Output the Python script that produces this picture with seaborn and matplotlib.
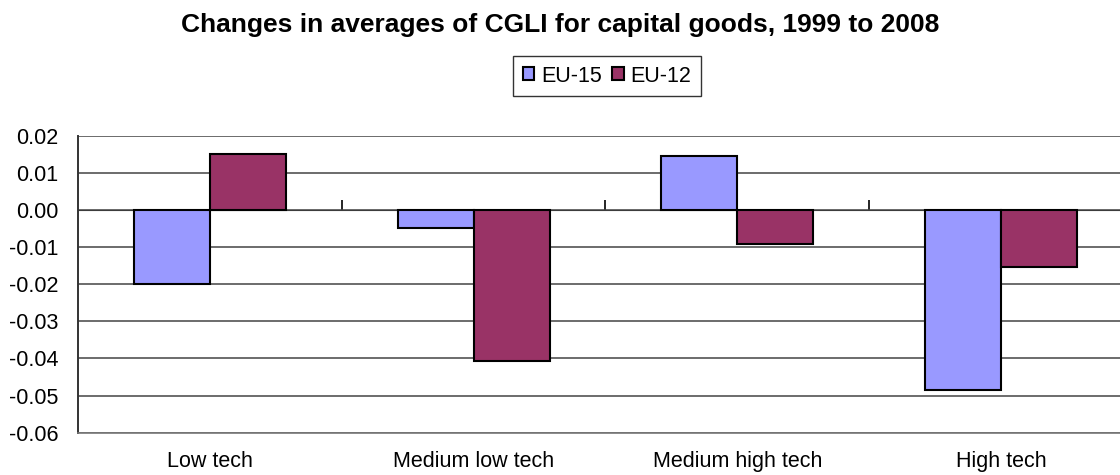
import numpy as np
import pandas as pd
import matplotlib
matplotlib.use("Agg")
import matplotlib.pyplot as plt
import seaborn as sns

# Données
categories = ["Low tech", "Medium low tech", "Medium high tech", "High tech"]
series_names = ["EU-15", "EU-12"]
eu15 = [-0.0200, -0.0048, 0.0144, -0.0486]
eu12 = [0.0151, -0.0408, -0.0093, -0.0154]
y_ticks = [0.02, 0.01, 0.00, -0.01, -0.02, -0.03, -0.04, -0.05, -0.06]

df = pd.DataFrame({
    "category": categories * 2,
    "region": [series_names[0]] * 4 + [series_names[1]] * 4,
    "value": eu15 + eu12,
})

sns.set_style("white")
plt.rcParams["font.family"] = ["Liberation Sans", "DejaVu Sans"]
plt.rcParams["axes.unicode_minus"] = False
plt.rcParams["text.color"] = "black"
plt.rcParams["xtick.color"] = "black"
plt.rcParams["ytick.color"] = "black"

fig = plt.figure(figsize=(11.2, 4.75), dpi=100)
ax = fig.add_axes([0.0696, 0.0891, 0.942, 0.6252])

sns.barplot(
    data=df, x="category", y="value", hue="region",
    palette=["#9999FF", "#993366"], saturation=1, width=0.576,
    edgecolor="black", linewidth=1.5, ax=ax, zorder=3,
)
ax.get_legend().remove()

ax.set_ylim(min(y_ticks), max(y_ticks))
ax.set_xlim(-0.5, len(categories) - 0.5)
ax.set_yticks(y_ticks)
ax.set_yticklabels([f"{t:.2f}" for t in y_ticks], fontsize=15.5, color="black")
ax.tick_params(axis="y", direction="out", length=7, width=1.2, color="#333333", pad=7)
ax.tick_params(axis="x", length=0, pad=13, labelsize=15.5, labelcolor="black")
ax.set_xlabel("")
ax.set_ylabel("")

# Grille horizontale
ax.grid(axis="y", color="#444444", linewidth=1.1, zorder=0)
ax.set_axisbelow(True)
for side in ["top", "right"]:
    ax.spines[side].set_visible(False)
ax.spines["bottom"].set_color("#777777")
ax.spines["bottom"].set_linewidth(1.2)
ax.spines["left"].set_color("#333333")
ax.spines["left"].set_linewidth(1.4)

# Axe des catégories à zéro, avec graduations entre les groupes
ylo, yhi = ax.get_ylim()
zero_axis = ax.secondary_xaxis((0 - ylo) / (yhi - ylo))
zero_axis.set_xticks([0.5, 1.5, 2.5])
zero_axis.set_xticklabels([])
zero_axis.tick_params(direction="out", length=7, width=1.2, color="black")
zero_axis.spines["bottom"].set_color("black")
zero_axis.spines["bottom"].set_linewidth(1.5)

# Titre et légende
fig.text(0.5, 1 - 25 / 475, "Changes in averages of CGLI for capital goods, 1999 to 2008",
         ha="center", va="center", fontsize=19, fontweight="bold", color="black")
handles, labels = ax.get_legend_handles_labels()
leg = fig.legend(
    handles, labels, loc="center", bbox_to_anchor=(607 / 1120, 1 - 76 / 475),
    ncol=2, fontsize=15.5, frameon=True, fancybox=False, edgecolor="black",
    handlelength=0.55, handleheight=0.55, handletextpad=0.3, columnspacing=0.5,
    borderpad=0.45, borderaxespad=0,
)
leg.get_frame().set_linewidth(1.0)
for txt in leg.get_texts():
    txt.set_color("black")

plt.savefig("out.png", dpi=100)
plt.close()
